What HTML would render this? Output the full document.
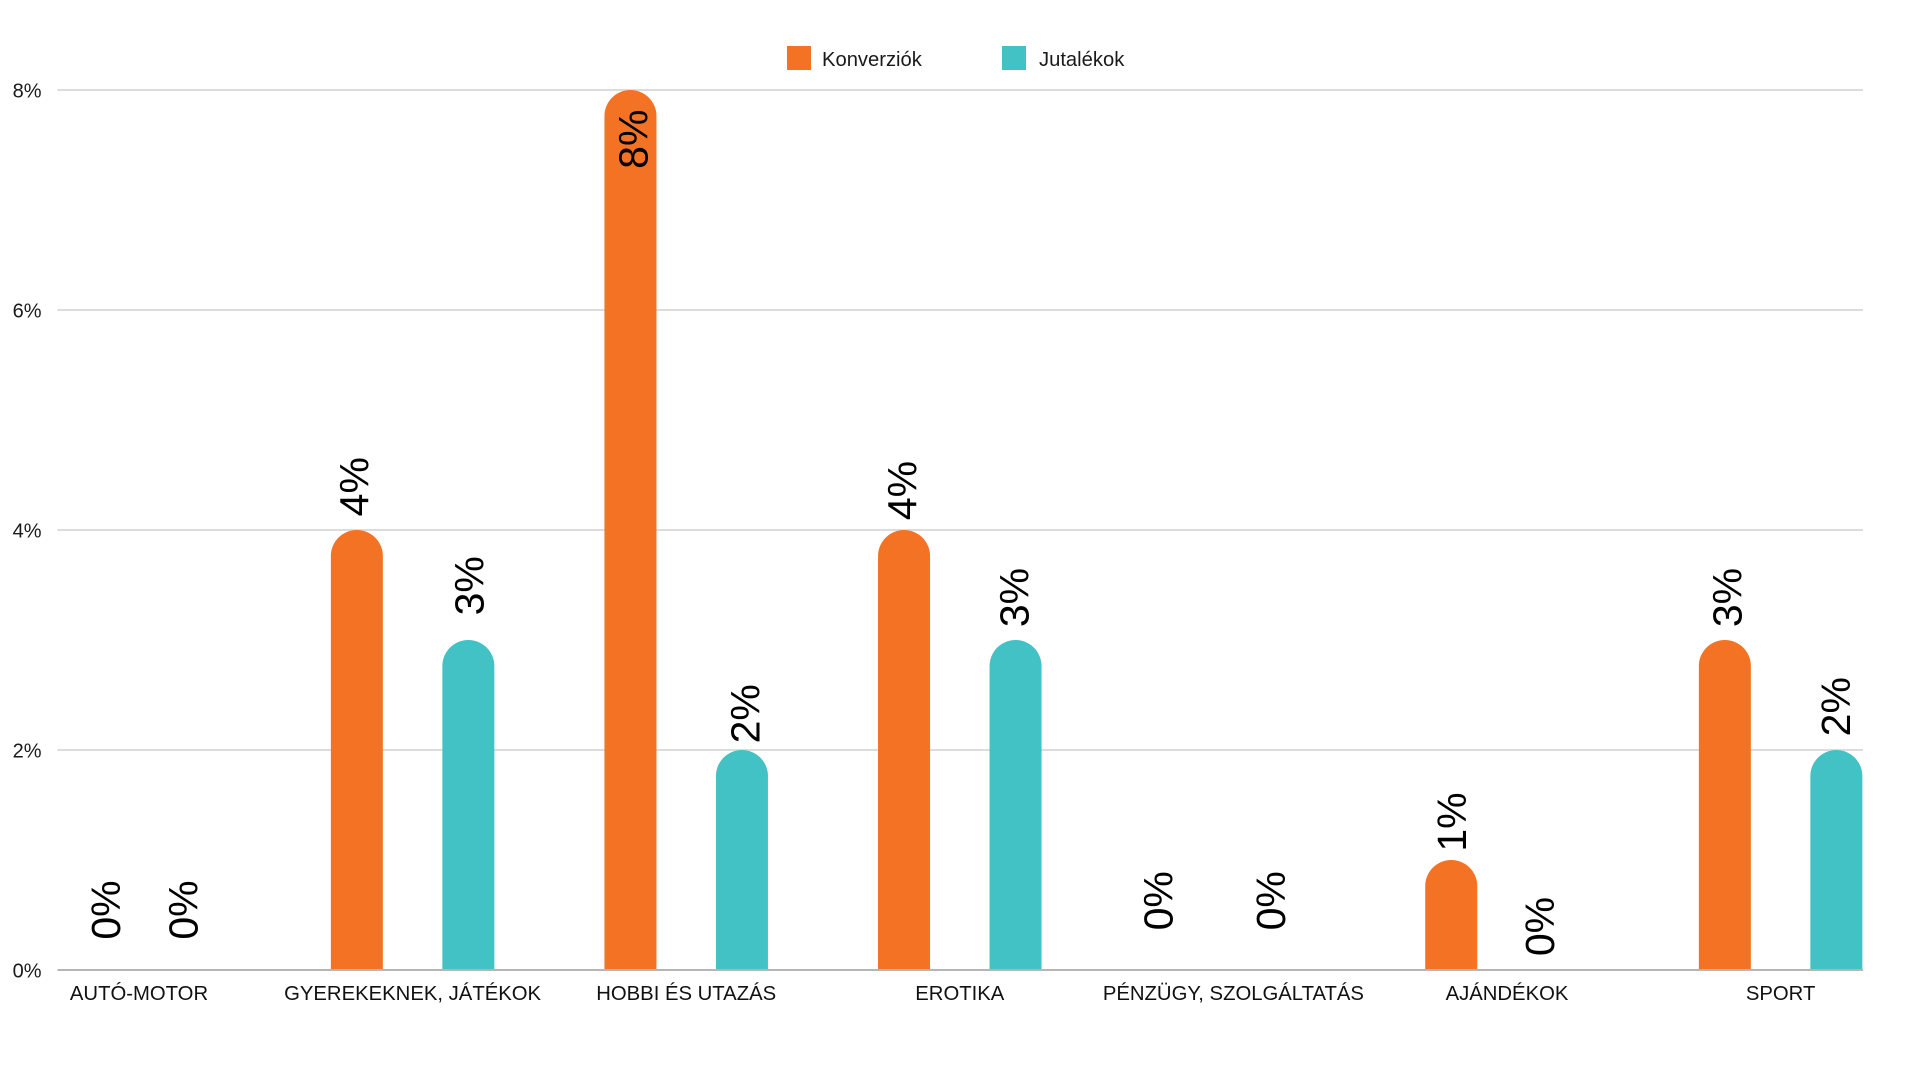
<!DOCTYPE html>
<html>
<head>
<meta charset="utf-8">
<style>
  html, body { margin: 0; padding: 0; background: #ffffff; }
  svg { display: block; }
  text { font-family: "Liberation Sans", Arial, sans-serif; }
</style>
</head>
<body>
<svg width="1920" height="1080" viewBox="0 0 1920 1080" xmlns="http://www.w3.org/2000/svg">
  <rect x="0" y="0" width="1920" height="1080" fill="#ffffff"/>

  <!-- Legend -->
  <rect x="787" y="46" width="24" height="24" fill="#f37223"/>
  <text x="822" y="66" font-size="20.2" fill="#1a1a1a">Konverziók</text>
  <rect x="1002" y="46" width="24" height="24" fill="#43c2c6"/>
  <text x="1039" y="66" font-size="20.2" fill="#1a1a1a">Jutalékok</text>

  <!-- Gridlines -->
  <g stroke="#dcdcdc" stroke-width="2">
    <line x1="57.5" y1="90" x2="1863" y2="90"/>
    <line x1="57.5" y1="310" x2="1863" y2="310"/>
    <line x1="57.5" y1="530" x2="1863" y2="530"/>
    <line x1="57.5" y1="750" x2="1863" y2="750"/>
  </g>

  <!-- Y-axis labels -->
  <g font-size="20" fill="#1a1a1a" text-anchor="end">
    <text x="41.5" y="97.5">8%</text>
    <text x="41.5" y="317.5">6%</text>
    <text x="41.5" y="537.5">4%</text>
    <text x="41.5" y="757.5">2%</text>
    <text x="41.5" y="977.5">0%</text>
  </g>

  <!-- Bars: orange (Konverziók) -->
  <g fill="#f37223">
    <path d="M330.85,970 V556 A26,26 0 0 1 382.85,556 V970 Z"/>
    <path d="M604.45,970 V116 A26,26 0 0 1 656.45,116 V970 Z"/>
    <path d="M878.05,970 V556 A26,26 0 0 1 930.05,556 V970 Z"/>
    <path d="M1425.25,970 V886 A26,26 0 0 1 1477.25,886 V970 Z"/>
    <path d="M1698.85,970 V666 A26,26 0 0 1 1750.85,666 V970 Z"/>
  </g>

  <!-- Bars: teal (Jutalékok) -->
  <g fill="#43c2c6">
    <path d="M442.35,970 V666 A26,26 0 0 1 494.35,666 V970 Z"/>
    <path d="M715.95,970 V776 A26,26 0 0 1 767.95,776 V970 Z"/>
    <path d="M989.55,970 V666 A26,26 0 0 1 1041.55,666 V970 Z"/>
    <path d="M1810.35,970 V776 A26,26 0 0 1 1862.35,776 V970 Z"/>
  </g>

  <!-- Baseline axis -->
  <line x1="57.5" y1="970" x2="1863" y2="970" stroke="#b5b5b5" stroke-width="2"/>

  <!-- Data labels (rotated) -->
  <g font-size="41" fill="#000" text-anchor="middle">
    <text transform="translate(120,910) rotate(-90)">0%</text>
    <text transform="translate(197.3,910) rotate(-90)">0%</text>
    <text transform="translate(368.3,486.7) rotate(-90)">4%</text>
    <text transform="translate(483.3,585.8) rotate(-90)">3%</text>
    <text transform="translate(647.3,139.2) rotate(-90)">8%</text>
    <text transform="translate(759.3,713.8) rotate(-90)">2%</text>
    <text transform="translate(916.7,490.5) rotate(-90)">4%</text>
    <text transform="translate(1028.3,597.5) rotate(-90)">3%</text>
    <text transform="translate(1172.7,900.8) rotate(-90)">0%</text>
    <text transform="translate(1285,900.8) rotate(-90)">0%</text>
    <text transform="translate(1466,822) rotate(-90)">1%</text>
    <text transform="translate(1554,926.5) rotate(-90)">0%</text>
    <text transform="translate(1741.7,597.5) rotate(-90)">3%</text>
    <text transform="translate(1850,706.7) rotate(-90)">2%</text>
  </g>

  <!-- Category labels -->
  <g font-size="20.3" fill="#111" text-anchor="middle">
    <text x="139" y="1000">AUTÓ-MOTOR</text>
    <text x="412.6" y="1000">GYEREKEKNEK, JÁTÉKOK</text>
    <text x="686.2" y="1000">HOBBI ÉS UTAZÁS</text>
    <text x="959.8" y="1000">EROTIKA</text>
    <text x="1233.4" y="1000">PÉNZÜGY, SZOLGÁLTATÁS</text>
    <text x="1507" y="1000">AJÁNDÉKOK</text>
    <text x="1780.6" y="1000">SPORT</text>
  </g>
</svg>
</body>
</html>
